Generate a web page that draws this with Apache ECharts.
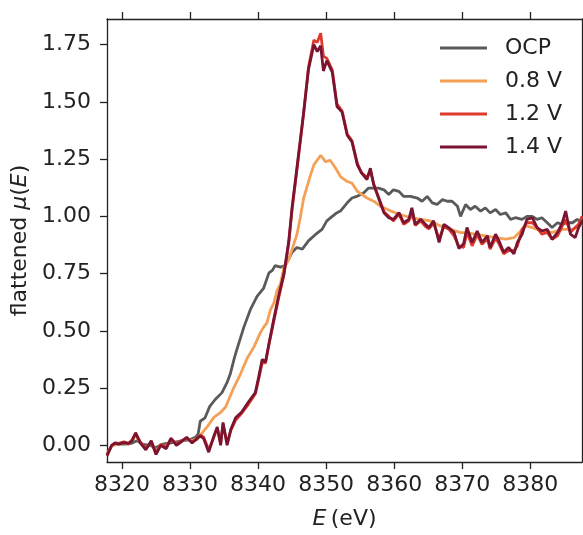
<!DOCTYPE html>
<html>
<head>
<meta charset="utf-8">
<script src="https://cdn.jsdelivr.net/npm/echarts@6/dist/echarts.min.js"></script>
<style>html,body{margin:0;padding:0;background:#fff;}#chart{width:583px;height:535px;}</style>
</head>
<body>
<div id="chart"></div>
<script>
const seriesNames = ['OCP', '0.8 V', '1.2 V', '1.4 V'];
const xTicks = [8320, 8330, 8340, 8350, 8360, 8370, 8380];
const yTicks = [0, 0.25, 0.5, 0.75, 1.0, 1.25, 1.5, 1.75];

const ocpE = [8317.8,8318.5,8319.5,8320.5,8321.5,8322.2,8323.0,8324.0,8325.0,8326.0,8327.0,8328.0,8329.0,8330.0,8330.8,8331.2,8331.5,8332.2,8332.9,8333.7,8334.7,8335.45,8335.9,8336.5,8336.9,8337.9,8338.9,8339.85,8340.8,8341.6,8342.1,8342.5,8343.3,8344.0,8345.0,8345.7,8346.5,8347.4,8348.4,8349.4,8350.1,8350.9,8351.6,8352.1,8353.1,8353.8,8354.5,8355.5,8356.2,8357.0,8357.7,8358.5,8359.2,8359.9,8360.7,8361.4,8362.4,8363.4,8364.1,8364.85,8365.6,8366.3,8367.1,8367.8,8368.5,8369.3,8369.75,8370.5,8371.2,8371.9,8372.7,8373.4,8374.1,8374.9,8375.6,8376.4,8377.1,8377.8,8378.8,8379.5,8380.3,8381.0,8381.7,8382.5,8383.2,8384.0,8384.7,8385.4,8386.2,8386.9,8387.6];
const ocpMu = [-0.04,0.0,0.005,0.005,0.01,0.02,0.005,0.0,-0.01,0.005,0.01,0.015,0.02,0.025,0.035,0.05,0.105,0.12,0.17,0.20,0.23,0.275,0.31,0.38,0.42,0.515,0.595,0.65,0.685,0.753,0.764,0.785,0.778,0.785,0.843,0.864,0.857,0.893,0.92,0.943,0.98,1.0,1.016,1.023,1.059,1.08,1.087,1.102,1.123,1.123,1.123,1.116,1.095,1.116,1.109,1.087,1.087,1.08,1.066,1.087,1.059,1.052,1.073,1.066,1.066,1.044,1.0,1.052,1.03,1.044,1.023,1.037,1.015,1.03,1.008,1.015,0.987,0.994,0.987,1.0,1.0,0.987,0.994,0.972,0.951,0.972,0.965,0.972,0.972,0.987,0.972];

const v08E = [8317.8,8318.5,8319.5,8320.3,8321.0,8321.5,8322.0,8322.7,8323.5,8324.3,8325.0,8325.7,8326.5,8327.2,8328.0,8328.7,8329.5,8330.3,8331.0,8331.5,8332.5,8333.5,8334.5,8335.2,8335.7,8336.4,8337.4,8338.4,8339.4,8340.3,8340.8,8341.3,8341.8,8342.3,8342.8,8343.3,8343.8,8344.5,8345.7,8346.2,8346.7,8347.7,8348.2,8349.2,8349.9,8350.6,8351.4,8352.1,8353.1,8353.8,8354.6,8355.0,8356.0,8357.0,8358.0,8359.5,8360.9,8362.4,8363.9,8365.3,8366.8,8368.3,8369.75,8370.5,8371.9,8373.4,8374.9,8376.4,8377.6,8378.6,8379.3,8380.3,8381.7,8383.2,8384.7,8386.2,8387.6];
const v08Mu = [-0.04,0.0,0.005,0.01,0.01,0.02,0.045,0.01,-0.015,0.015,-0.03,0.0,-0.005,0.025,0.005,0.015,0.03,0.02,0.03,0.043,0.08,0.122,0.144,0.166,0.20,0.25,0.31,0.38,0.43,0.49,0.515,0.535,0.59,0.62,0.677,0.706,0.778,0.81,0.92,0.994,1.08,1.18,1.225,1.267,1.239,1.245,1.21,1.174,1.152,1.145,1.109,1.10,1.08,1.066,1.044,1.023,1.008,0.994,0.987,0.98,0.958,0.943,0.929,0.929,0.922,0.915,0.907,0.90,0.907,0.936,0.958,0.951,0.936,0.929,0.943,0.943,0.965];

const v12E = [8317.8,8318.5,8319.0,8319.5,8320.3,8321.0,8321.5,8322.0,8322.7,8323.5,8324.3,8325.0,8325.7,8326.5,8327.2,8328.0,8328.7,8329.5,8330.3,8331.0,8331.5,8332.0,8332.75,8333.5,8334.0,8334.5,8334.85,8335.45,8336.0,8336.7,8337.6,8338.6,8339.6,8340.1,8340.6,8341.1,8341.6,8342.3,8343.0,8343.8,8344.5,8345.0,8345.7,8346.7,8347.4,8348.2,8348.7,8349.2,8349.6,8350.1,8350.9,8351.6,8352.35,8353.1,8353.8,8354.6,8355.2,8356.0,8356.5,8357.0,8357.7,8358.5,8359.2,8359.9,8360.7,8361.4,8362.15,8362.6,8363.1,8363.9,8364.6,8365.1,8365.8,8366.6,8367.3,8368.0,8368.8,8369.5,8370.2,8370.7,8371.45,8372.2,8372.9,8373.7,8374.1,8374.9,8375.4,8376.1,8376.8,8377.6,8378.1,8378.8,8379.5,8380.3,8381.0,8381.7,8382.5,8383.2,8384.0,8384.7,8385.2,8385.9,8386.6,8387.1,8387.6];
const v12Mu = [-0.045,0.0,0.01,0.008,0.015,0.005,0.025,0.05,0.015,-0.015,0.015,-0.035,0.005,-0.01,0.03,0.005,0.02,0.03,0.015,0.025,0.045,0.035,-0.02,0.035,0.075,0.01,0.09,0.01,0.065,0.11,0.14,0.18,0.225,0.29,0.36,0.36,0.44,0.54,0.64,0.745,0.88,1.03,1.20,1.45,1.65,1.77,1.76,1.80,1.70,1.69,1.64,1.49,1.46,1.36,1.33,1.23,1.19,1.17,1.2,1.14,1.085,1.02,1.0,0.98,1.01,0.965,0.98,1.02,0.96,0.98,0.955,0.945,0.97,0.90,0.955,0.945,0.915,0.87,0.864,0.93,0.871,0.92,0.878,0.9,0.857,0.905,0.88,0.836,0.85,0.85,0.87,0.943,0.972,0.972,0.951,0.922,0.93,0.90,0.915,0.958,0.987,0.93,0.951,0.965,1.0];

const v14E = [8317.8,8318.5,8319.0,8319.5,8320.3,8321.0,8321.5,8322.0,8322.7,8323.5,8324.3,8325.0,8325.7,8326.5,8327.2,8328.0,8328.7,8329.5,8330.3,8331.0,8331.5,8332.0,8332.75,8333.5,8334.0,8334.5,8334.85,8335.45,8336.0,8336.7,8337.6,8338.6,8339.6,8340.1,8340.6,8341.1,8341.6,8342.3,8343.0,8343.8,8344.5,8345.0,8345.7,8346.7,8347.4,8348.2,8348.7,8349.2,8349.6,8350.1,8350.9,8351.6,8352.35,8353.1,8353.8,8354.6,8355.2,8356.0,8356.5,8357.0,8357.7,8358.5,8359.2,8359.9,8360.7,8361.4,8362.15,8362.6,8363.1,8363.9,8364.6,8365.1,8365.8,8366.6,8367.3,8368.0,8368.8,8369.5,8370.2,8370.7,8371.45,8372.2,8372.9,8373.7,8374.1,8374.9,8375.4,8376.1,8376.8,8377.6,8378.1,8378.8,8379.5,8380.3,8381.0,8381.7,8382.5,8383.2,8384.0,8384.7,8385.2,8385.9,8386.6,8387.1,8387.6];
const v14Mu = [-0.045,0.0,0.01,0.005,0.012,0.008,0.02,0.055,0.01,-0.02,0.02,-0.04,0.0,-0.015,0.03,0.0,0.015,0.035,0.01,0.03,0.04,0.03,-0.03,0.04,0.08,0.0,0.1,0.0,0.07,0.12,0.145,0.19,0.23,0.30,0.375,0.365,0.445,0.55,0.65,0.75,0.89,1.04,1.21,1.455,1.64,1.75,1.72,1.745,1.635,1.68,1.63,1.48,1.455,1.354,1.325,1.224,1.19,1.16,1.21,1.138,1.08,1.016,0.994,0.987,1.016,0.972,0.987,1.037,0.965,0.987,0.965,0.951,0.98,0.886,0.965,0.951,0.93,0.86,0.88,0.951,0.886,0.936,0.886,0.915,0.864,0.922,0.893,0.843,0.864,0.836,0.886,0.922,0.987,0.994,0.951,0.936,0.943,0.90,0.929,0.972,1.023,0.922,0.907,0.951,0.98];

const colors = ['#5a5a5a', '#f4a056', '#de3a2c', '#7a1430'];
const xsList = [ocpE, v08E, v12E, v14E];
const ysList = [ocpMu, v08Mu, v12Mu, v14Mu];

const FONT = 'DejaVu Sans';
const AX = '#222';

const chart = echarts.init(document.getElementById('chart'), null, {renderer: 'canvas'});
const series = seriesNames.map((name, i) => ({
  name: name,
  type: 'line',
  data: xsList[i].map((x, k) => [x, ysList[i][k]]),
  showSymbol: false,
  symbol: 'none',
  lineStyle: {color: colors[i], width: 2.8},
  itemStyle: {color: colors[i]},
  z: 2 + i,
  clip: true
}));

chart.setOption({
  animation: false,
  backgroundColor: '#fff',
  grid: {left: 107, right: 1, top: 19, bottom: 68, containLabel: false},
  legend: {
    data: seriesNames,
    orient: 'vertical',
    left: 440,
    top: 37,
    itemWidth: 47,
    itemHeight: 14,
    itemGap: 11,
    padding: 0,
    icon: 'path://M0,6 L47,6 L47,9 L0,9 Z',
    textStyle: {fontFamily: FONT, fontSize: 22, color: '#222', lineHeight: 22, padding: [0, 0, 0, 13]}
  },
  xAxis: [{
    type: 'value',
    min: 8317.8,
    max: 8387.6,
    position: 'bottom',
    name: '{i|E}\u2009(eV)',
    nameLocation: 'middle',
    nameGap: 46,
    nameTextStyle: {
      fontFamily: FONT, fontSize: 22, color: '#222',
      rich: {i: {fontFamily: FONT, fontSize: 22, fontStyle: 'italic', color: '#222'}}
    },
    axisLine: {show: true, onZero: false, lineStyle: {color: AX, width: 1.3}},
    axisTick: {show: true, inside: false, length: 7, customValues: xTicks, lineStyle: {color: AX, width: 1.3}},
    axisLabel: {show: true, margin: 12, customValues: xTicks, fontFamily: FONT, fontSize: 22, color: '#222', formatter: v => String(Math.round(v))},
    splitLine: {show: false}
  }, {
    type: 'value',
    min: 8317.8,
    max: 8387.6,
    position: 'top',
    axisLine: {show: true, onZero: false, lineStyle: {color: AX, width: 1.3}},
    axisTick: {show: true, inside: false, length: 7, customValues: xTicks, lineStyle: {color: AX, width: 1.3}},
    axisLabel: {show: false},
    splitLine: {show: false}
  }],
  yAxis: [{
    type: 'value',
    min: -0.073,
    max: 1.862,
    position: 'left',
    name: 'flattened {i|μ}({i|E})',
    nameLocation: 'middle',
    nameRotate: 90,
    nameGap: 73,
    nameTextStyle: {
      fontFamily: FONT, fontSize: 22, color: '#222',
      rich: {i: {fontFamily: FONT, fontSize: 22, fontStyle: 'italic', color: '#222'}}
    },
    axisLine: {show: true, onZero: false, lineStyle: {color: AX, width: 1.3}},
    axisTick: {show: true, inside: false, length: 7, customValues: yTicks, lineStyle: {color: AX, width: 1.3}},
    axisLabel: {show: true, margin: 16, customValues: yTicks, fontFamily: FONT, fontSize: 22, color: '#222', formatter: v => v.toFixed(2)},
    splitLine: {show: false}
  }, {
    type: 'value',
    min: -0.073,
    max: 1.862,
    position: 'right',
    axisLine: {show: true, onZero: false, lineStyle: {color: AX, width: 1.3}},
    axisTick: {show: false},
    axisLabel: {show: false},
    splitLine: {show: false}
  }],
  series: series
});
</script>
</body>
</html>
